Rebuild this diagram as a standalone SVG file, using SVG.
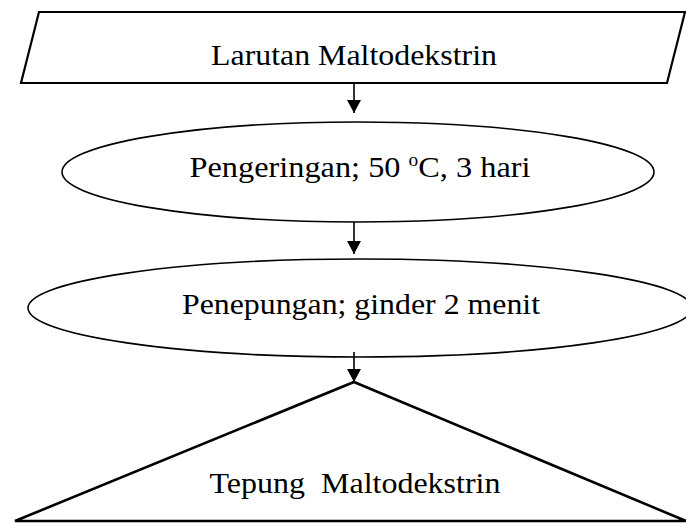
<svg xmlns="http://www.w3.org/2000/svg" width="686" height="523" viewBox="0 0 686 523">
  <style>
    .shape { fill: #ffffff; stroke: #000000; }
    .label { font-family: "Liberation Serif", "Times New Roman", serif; font-size: 30px; fill: #000000; text-anchor: middle; }
    .link { stroke: #000000; stroke-width: 1.6; fill: none; }
  </style>
  <defs>
    <marker id="head" viewBox="0 0 13 14" refX="13" refY="7" markerWidth="13" markerHeight="14" markerUnits="userSpaceOnUse" orient="auto">
      <path d="M0,0 L13,7 L0,14 Z" fill="#000000"/>
    </marker>
  </defs>

  <!-- input: maltodextrin solution -->
  <g id="larutan">
    <polygon class="shape" stroke-width="2.2" points="39,12 685,12 667,83 21,83"/>
    <text class="label" x="354" y="65" textLength="286" lengthAdjust="spacingAndGlyphs">Larutan Maltodekstrin</text>
  </g>

  <!-- drying step -->
  <g id="pengeringan">
    <ellipse class="shape" stroke-width="1.6" cx="358" cy="172" rx="296" ry="50"/>
    <text class="label" x="360" y="177" textLength="341" lengthAdjust="spacingAndGlyphs">Pengeringan; 50 <tspan font-size="18" dy="-11">o</tspan><tspan dy="11">C, 3 hari</tspan></text>
  </g>

  <!-- milling step -->
  <g id="penepungan">
    <ellipse class="shape" stroke-width="1.6" cx="360" cy="308" rx="332" ry="49"/>
    <text class="label" x="361" y="314" textLength="358" lengthAdjust="spacingAndGlyphs">Penepungan; ginder 2 menit</text>
  </g>

  <!-- output: maltodextrin flour -->
  <g id="tepung">
    <polygon class="shape" stroke-width="2.6" points="354,382 686,521 15,521"/>
    <text class="label" x="355" y="493" xml:space="preserve" textLength="291" lengthAdjust="spacingAndGlyphs">Tepung  Maltodekstrin</text>
  </g>

  <!-- connectors -->
  <g id="connectors">
    <line class="link" x1="354" y1="84" x2="354" y2="113" marker-end="url(#head)"/>
    <line class="link" x1="354" y1="222" x2="354" y2="254" marker-end="url(#head)"/>
    <line class="link" x1="354" y1="352" x2="354" y2="382" marker-end="url(#head)"/>
  </g>
</svg>
